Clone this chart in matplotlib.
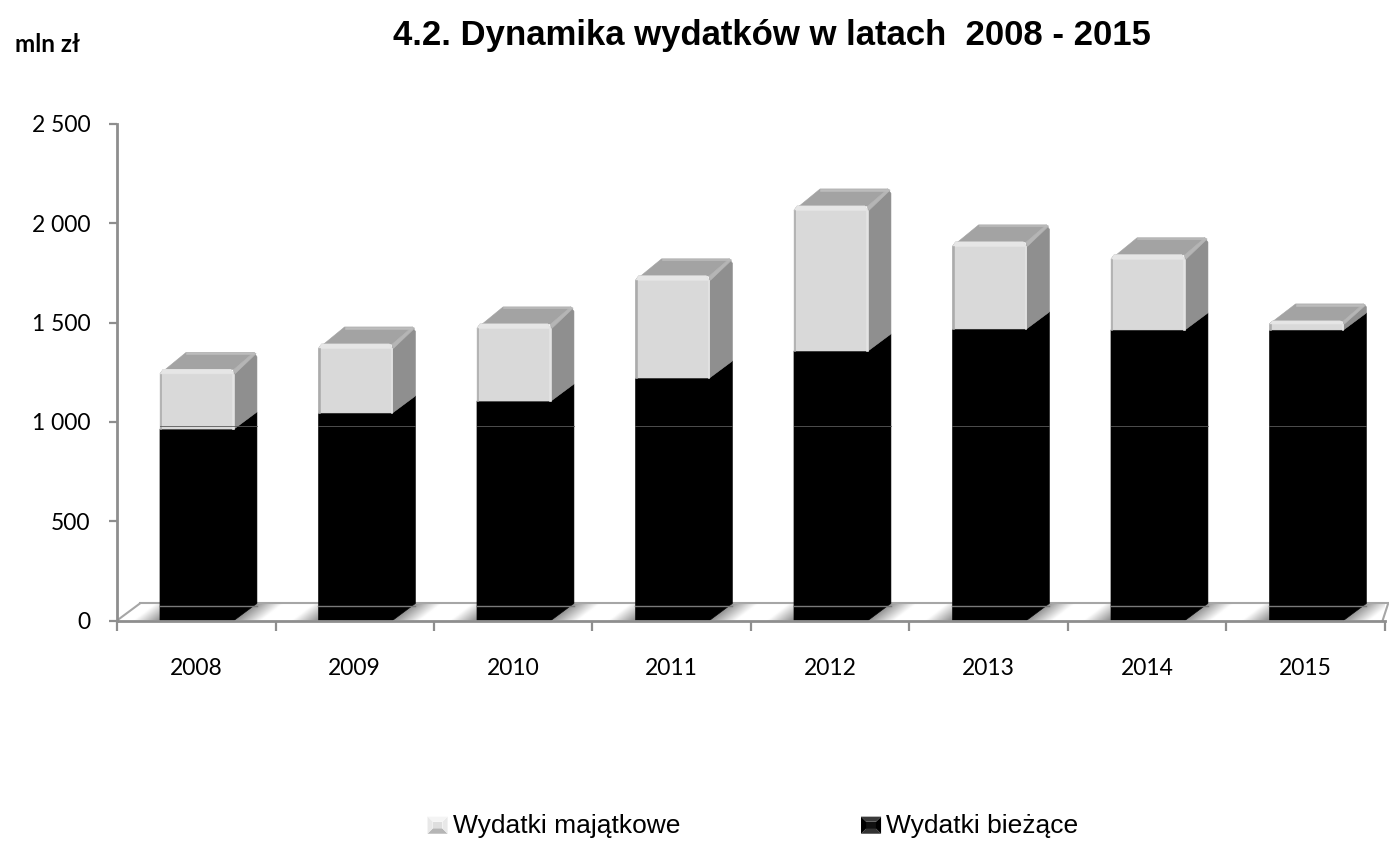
import numpy as np
import matplotlib
matplotlib.use('Agg')
from matplotlib import pyplot as plt
from matplotlib.legend_handler import HandlerBase
from matplotlib.patches import Patch, Polygon

# values (mln zl)
years = ['2008', '2009', '2010', '2011', '2012', '2013', '2014', '2015']
biezace = [964, 1045, 1105, 1221, 1357, 1468, 1463, 1463]
majatkowe = [300, 347, 388, 514, 730, 438, 378, 45]
y_ticks = [0, 500, 1000, 1500, 2000, 2500]
y_labels = ['0', '500', '1 000', '1 500', '2 000', '2 500']

W, H = 1389, 843
BAR_L, BAR_W = 0.271, 0.467
DX, DY = 0.145, 86    # 3d depth in data units
CX, CY = 0.02, 22     # size of the rounded corners
GREY_AX = '#8e8e8e'


def poly(ax, pts, color, z=4):
    ax.add_patch(Polygon(pts, closed=True, fc=color, ec=color, lw=0.4, zorder=z, clip_on=False))


class BevelKey(HandlerBase):
    # legend key drawn as a small pyramid, like the Excel bevel
    def __init__(self, shades):
        super().__init__()
        self.shades = shades

    def create_artists(self, legend, orig, x0, y0, w, h, fs, trans):
        inset = h * 0.3
        x1, y1 = x0 + w, y0 + h
        a, b = (x0, y0), (x1, y0)
        c, d = (x1, y1), (x0, y1)
        ia, ib = (x0 + inset, y0 + inset), (x1 - inset, y0 + inset)
        ic, id_ = (x1 - inset, y1 - inset), (x0 + inset, y1 - inset)
        faces = [
            ([ia, ib, ic, id_], self.shades[0]),
            ([a, b, ib, ia], self.shades[1]),
            ([b, c, ic, ib], self.shades[2]),
            ([c, d, id_, ic], self.shades[3]),
            ([d, a, ia, id_], self.shades[2]),
        ]
        return [Polygon(p, closed=True, fc=col, ec='none', transform=trans) for p, col in faces]


fig = plt.figure(figsize=(W / 100, H / 100), dpi=100)
ax = fig.add_axes([117 / W, 1 - 620.5 / H, (1385 - 117) / W, (620.5 - 124) / H])

# floor with its repeating shine, one bright band per gap between the bars
floor = [(0, 0), (7.985, 0), (8.02, DY), (DX, DY)]
xs = np.linspace(0, 8.1, 900)
ys = np.linspace(0, DY, 40)
xx, yy = np.meshgrid(xs, ys)
dist = np.abs(((xx - DX * yy / DY + 0.5) % 1) - 0.5)
shine = np.clip(1.25 - 2.6 * dist, 0, 1)
im = ax.imshow(shine, extent=(0, 8.1, 0, DY), origin='lower', cmap='gray', vmin=0, vmax=1,
               aspect='auto', zorder=1, interpolation='bilinear')
im.set_clip_path(Polygon(floor, closed=True, transform=ax.transData))
ax.plot([DX, 8.02], [DY, DY], color='#a6a6a6', lw=1.5, zorder=2, clip_on=False)
ax.plot([0, DX], [0, DY], color='#a6a6a6', lw=1.5, zorder=2)
ax.plot([7.985, 8.02], [0, DY], color='#a6a6a6', lw=1.5, zorder=2, clip_on=False)

for i in range(len(years)):
    left = i + BAR_L
    right = left + BAR_W
    low = biezace[i]
    total = low + majatkowe[i]
    cy = min(CY, majatkowe[i] / 3)

    # running costs: front and side both black
    poly(ax, [(left, 0), (right, 0), (right + DX, DY), (right + DX, low + DY), (right, low), (left, low)], '#000000')

    # investment block, corners cut a little to look rounded
    poly(ax, [(right, low), (right + DX, low + DY), (right + DX, total + DY - cy),
              (right + DX - CX, total + DY), (right, total)], '#8f8f8f')
    poly(ax, [(left, total - cy), (left + CX, total), (right, total), (right + DX - CX, total + DY),
              (left + DX + CX, total + DY)], '#a3a3a3')
    poly(ax, [(left, low), (right, low), (right, total - cy), (right - CX, total),
              (left + CX, total), (left, total - cy)], '#d9d9d9')

    # light bevel along the edges of the block
    poly(ax, [(left + CX, total), (right - CX, total), (right - 0.005, total - cy),
              (left + 0.005, total - cy)], '#e6e6e6', 5)
    poly(ax, [(right - 0.012, low), (right, low), (right, total - cy), (right - 0.012, total - cy)], '#e4e4e4', 5)
    poly(ax, [(left, low), (left + 0.007, low), (left + 0.007, total - cy), (left, total - cy)], '#ababab', 5)
    poly(ax, [(right - 0.005, total - 3), (right + DX - CX, total + DY), (right + DX - 0.005, total + DY - 6),
              (right + 0.006, total - cy)], '#b5b5b5', 5)
    poly(ax, [(left + DX + CX, total + DY), (right + DX - CX, total + DY), (right + DX - CX, total + DY - 8),
              (left + DX + CX, total + DY - 8)], '#bcbcbc', 5)

    # faint lines of the back wall showing through
    ax.plot([left, right + DX], [980, 980], color='#5a5a5a', lw=0.6, zorder=6)
    ax.plot([left, right + DX], [73, 73], color='#7a7a7a', lw=1.0, zorder=6)

ax.set_xlim(0, 8)
ax.set_ylim(0, 2500)
ax.set_xticks(range(9))
ax.set_xticklabels([])
ax.set_xticks(np.arange(8) + 0.5, labels=years, minor=True)
ax.set_yticks(y_ticks, labels=y_labels)
ax.tick_params(axis='x', which='major', length=7, width=1.6, color=GREY_AX)
ax.tick_params(axis='x', which='minor', length=0, pad=27, labelsize=16.5)
ax.tick_params(axis='y', length=6, width=1.6, color=GREY_AX, labelsize=16.5, pad=13)
for lab in ax.get_xticklabels(minor=True) + ax.get_yticklabels():
    lab.set_family('Lato')
for name in ['top', 'right']:
    ax.spines[name].set_visible(False)
for name in ['left', 'bottom']:
    ax.spines[name].set_color(GREY_AX)
    ax.spines[name].set_linewidth(2)
    ax.spines[name].set_zorder(7)

fig.text(772 / W, 1 - 35 / H, '4.2. Dynamika wydatków w latach  2008 - 2015', ha='center', va='center',
         family='Liberation Sans', fontweight='bold', fontsize=25)
fig.text(15 / W, 1 - 44 / H, 'mln zł', ha='left', va='center', family='Lato', fontweight='bold', fontsize=17.5)

handles = [Patch(label='Wydatki majątkowe'), Patch(label='Wydatki bieżące')]
leg = fig.legend(handles=handles, loc='center', bbox_to_anchor=(753 / W, 1 - 826 / H), ncol=2, frameon=False,
                 prop={'family': 'Liberation Sans', 'size': 19}, columnspacing=6.85, handlelength=0.76,
                 handleheight=0.62, handletextpad=0.2,
                 handler_map={handles[0]: BevelKey(['#dedede', '#b5b5b5', '#e8e8e8', '#f4f4f4']),
                              handles[1]: BevelKey(['#111111', '#333333', '#000000', '#3a3a3a'])})

fig.savefig('out.png', dpi=100)
